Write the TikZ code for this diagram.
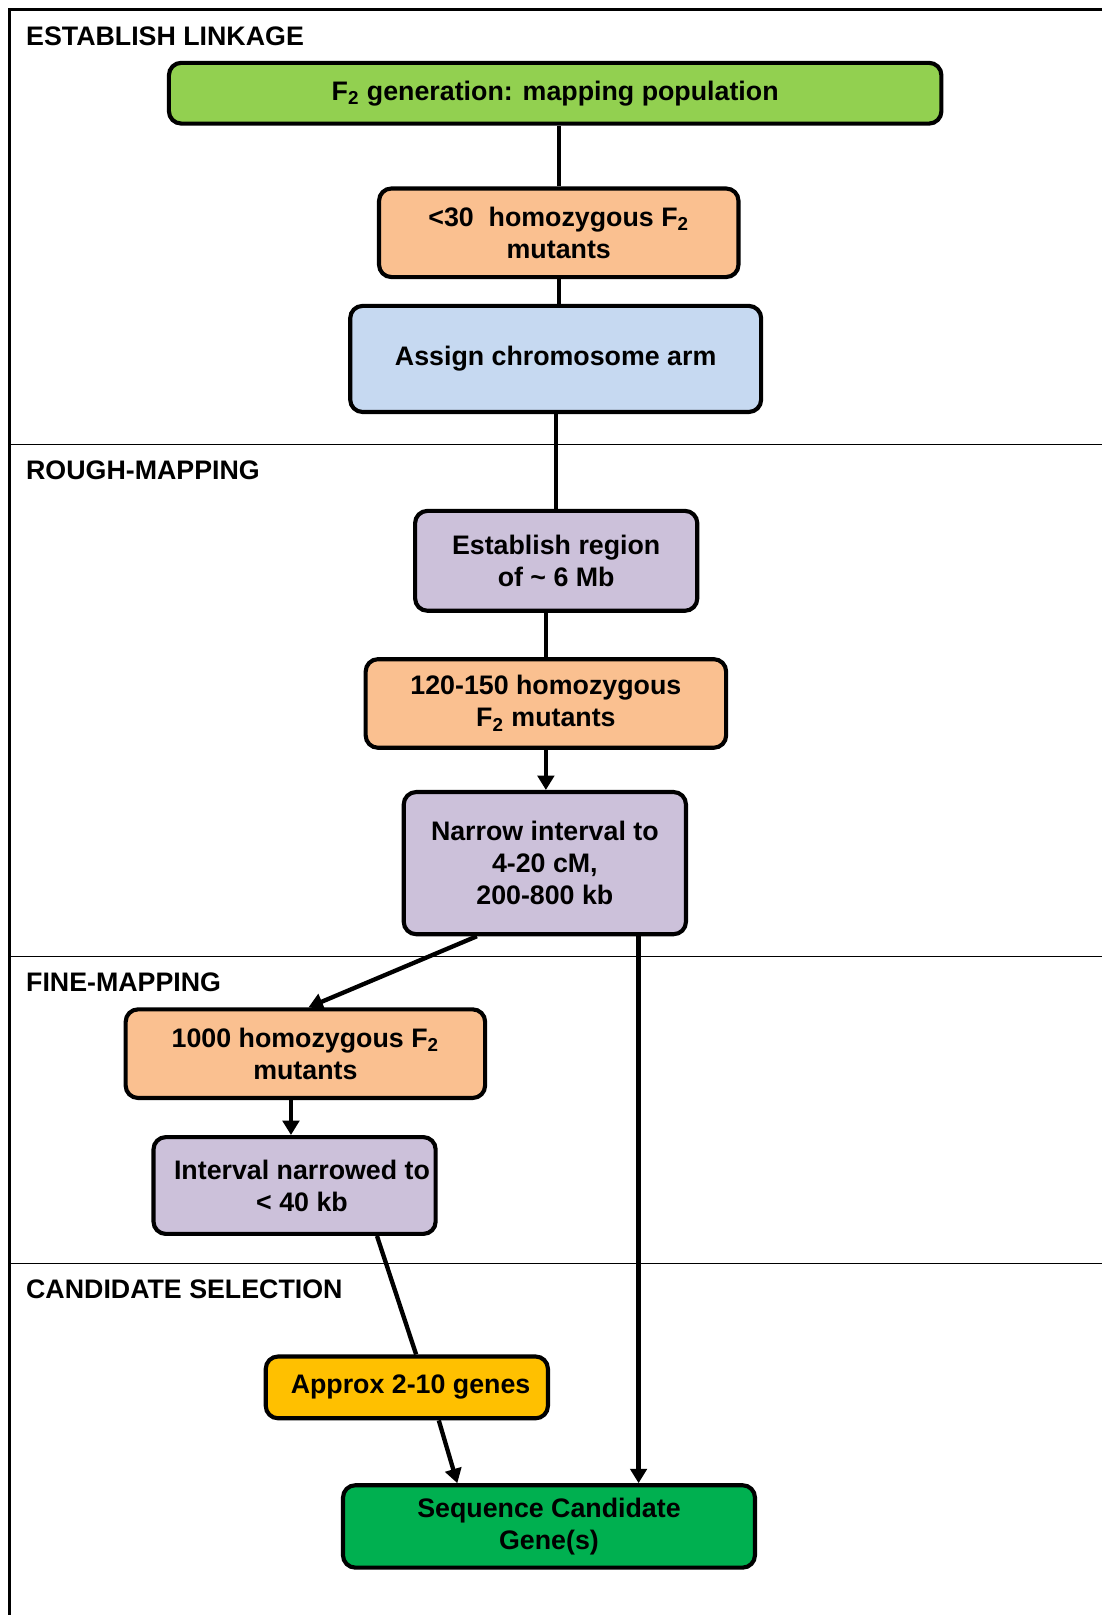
\documentclass[tikz,border=0pt]{standalone}
\usepackage{fontspec}
\setmainfont{Liberation Sans}
\usetikzlibrary{arrows.meta}
\definecolor{mapgreen}{HTML}{92D050}
\definecolor{mutorange}{HTML}{FAC090}
\definecolor{armblue}{HTML}{C6D9F1}
\definecolor{intpurple}{HTML}{CCC1DA}
\definecolor{geneyellow}{HTML}{FFC000}
\definecolor{seqgreen}{HTML}{00B050}

\begin{document}
\begin{tikzpicture}[x = 0.5pt, y = -0.5pt,
    box/.style = {draw, rectangle, rounded corners = 6pt, line width = 2pt, align = center, inner sep = 0pt, font = \fontsize{13}{15.5}\selectfont\bfseries},
    section/.style = {anchor = west, inner sep = 0pt, font = \fontsize{13}{15.5}\selectfont\bfseries},
    link/.style = {line width = 2.1pt},
    flow/.style = {line width = 2.1pt, -{Triangle[length = 7pt, width = 8pt]}}]
	\useasboundingbox (0, 0) rectangle (1070, 1568);
	% frame and sections
	\draw [line width = 1.6pt] (1070, 9) -- (9, 9) -- (9, 1568);
	\draw [line width = 0.5pt] (9, 432) -- (1070, 432);
	\draw [line width = 0.5pt] (9, 929) -- (1070, 929);
	\draw [line width = 0.5pt] (9, 1227) -- (1070, 1227);
	\node [section] at (25, 35) (linkage) {ESTABLISH LINKAGE};
	\node [section] at (25, 457) (rough) {ROUGH-MAPPING};
	\node [section] at (25, 954) (fine) {FINE-MAPPING};
	\node [section] at (25, 1252) (candidate) {CANDIDATE SELECTION};
	% boxes
	\node [box, fill = mapgreen, minimum width = 375pt, minimum height = 29.5pt] at (539, 90.5) (population) {F\textsubscript{2} generation: mapping population};
	\node [box, fill = mutorange, minimum width = 174.5pt, minimum height = 43pt] at (542.5, 226) (mutantsA) {<30\ \ homozygous F\textsubscript{2}\\mutants};
	\node [box, fill = armblue, minimum width = 199.5pt, minimum height = 51.5pt] at (539.5, 348.5) (arm) {Assign chromosome arm};
	\node [box, fill = intpurple, minimum width = 137pt, minimum height = 48.5pt] at (540, 544.5) (region) {Establish region\\of \textasciitilde{} 6 Mb};
	\node [box, fill = mutorange, minimum width = 175pt, minimum height = 43pt] at (530, 683) (mutantsB) {120-150 homozygous\\F\textsubscript{2} mutants};
	\node [box, fill = intpurple, minimum width = 137pt, minimum height = 69pt] at (529, 838) (narrow) {Narrow interval to\\4-20 cM,\\200-800 kb};
	\node [box, fill = mutorange, minimum width = 174.5pt, minimum height = 43pt] at (296.5, 1023) (mutantsC) {1000 homozygous F\textsubscript{2}\\mutants};
	\node [box, fill = intpurple, minimum width = 137pt, minimum height = 47pt] at (286, 1151) (narrowed) {\ \ Interval narrowed to\\\ \ < 40 kb};
	\node [box, fill = geneyellow, minimum width = 137pt, minimum height = 30pt] at (395, 1347) (genes) {\ Approx 2-10 genes};
	\node [box, fill = seqgreen, minimum width = 200pt, minimum height = 40pt] at (533, 1482) (sequence) {Sequence Candidate\\Gene(s)};
	% connectors
	\draw [link] (mutantsA.north) to (mutantsA.north |- population.south);
	\draw [link] (mutantsA.south) to (mutantsA.south |- arm.north);
	\draw [link] (arm.south) to (arm.south |- region.north);
	\draw [link] (mutantsB.north) to (mutantsB.north |- region.south);
	\draw [flow] (mutantsB.south) to (mutantsB.south |- narrow.north);
	\draw [flow] ([xshift = -33pt]narrow.south) to ([xshift = 1.5pt]mutantsC.north);
	\draw [flow] ([xshift = 45.5pt]narrow.south) to ([xshift = 45.5pt]narrow.south |- sequence.north);
	\draw [flow] ([xshift = -7pt]mutantsC.south) to ([xshift = -7pt]mutantsC.south |- narrowed.north);
	\draw [link] ([xshift = 40pt]narrowed.south) to ([xshift = 4.5pt]genes.north);
	\draw [flow] ([xshift = 15.5pt]genes.south) to ([xshift = -44.5pt]sequence.north);
\end{tikzpicture}
\end{document}
